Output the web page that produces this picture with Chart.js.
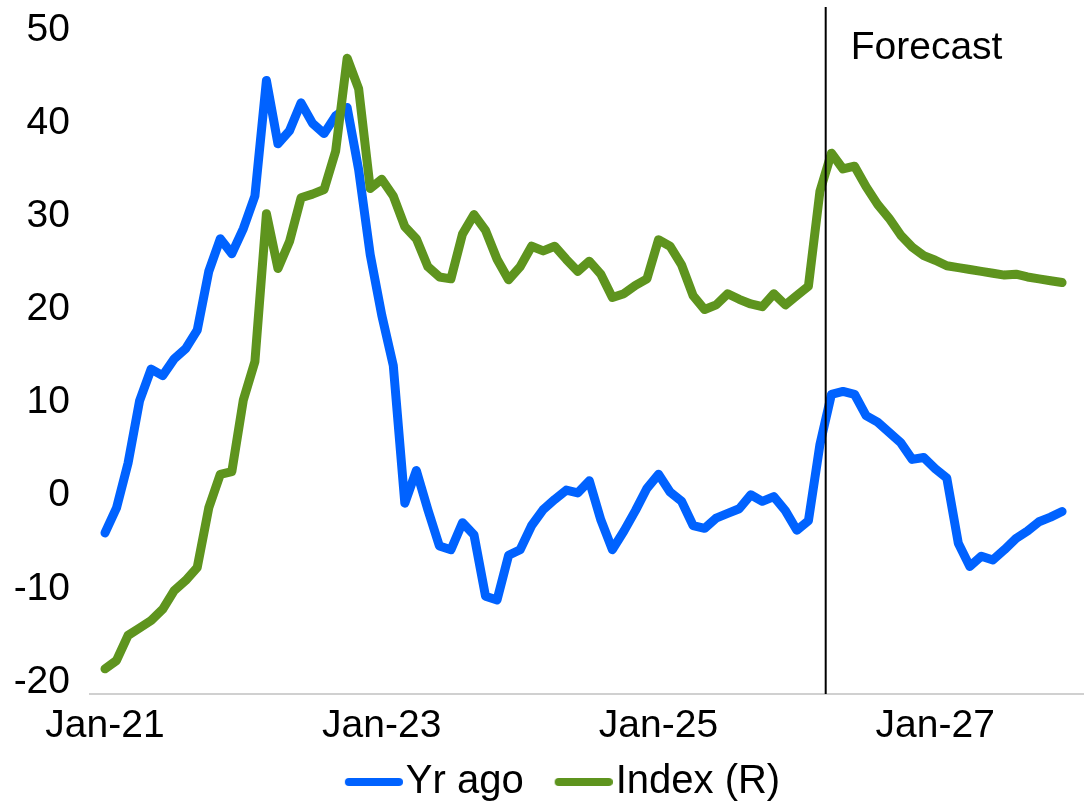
<!DOCTYPE html>
<html>
<head>
<meta charset="utf-8">
<script src="https://cdn.jsdelivr.net/npm/chart.js@4.4.1/dist/chart.umd.min.js"></script>
<style>
  html, body { margin: 0; padding: 0; background: #fff; }
  #wrap { width: 1084px; height: 805px; position: relative; }
</style>
</head>
<body>
<div id="wrap"><canvas id="myChart"></canvas></div>
<script>
// monthly, Jan-21 .. Dec-27
var startYear = 2021;
var monthNames = ['Jan','Feb','Mar','Apr','May','Jun','Jul','Aug','Sep','Oct','Nov','Dec'];
var months = [];
for (var i = 0; i < 84; i++) {
    months.push(monthNames[i % 12] + '-' + String(startYear + Math.floor(i / 12)).slice(2));
}

var yrAgo = [-4.0, -1.3, 3.5, 10.2, 13.6, 12.9, 14.7, 15.8, 17.8, 24.1,
    27.6, 26.0, 28.7, 32.2, 44.6, 37.8, 39.2, 42.2, 40.0, 38.9,
    40.8, 41.7, 35.0, 25.9, 19.4, 14.0, -0.8, 2.7, -1.5, -5.4,
    -5.8, -2.9, -4.2, -10.8, -11.2, -6.4, -5.8, -3.2, -1.5, -0.4,
    0.6, 0.3, 1.6, -2.6, -5.8, -3.8, -1.6, 0.8, 2.3, 0.4,
    -0.6, -3.2, -3.5, -2.4, -1.9, -1.4, 0.1, -0.6, -0.1, -1.6,
    -3.7, -2.7, 5.5, 10.9, 11.2, 10.9, 8.6, 7.9, 6.8, 5.7,
    3.9, 4.1, 2.9, 1.9, -5.1, -7.6, -6.5, -6.9, -5.8, -4.6,
    -3.8, -2.8, -2.3, -1.7];

var indexR = [-18.6, -17.7, -15.0, -14.2, -13.4, -12.2, -10.2, -9.1, -7.7, -1.3,
    2.3, 2.6, 10.3, 14.4, 30.3, 24.4, 27.3, 32.0, 32.4, 32.9,
    37.0, 47.0, 43.7, 33.0, 34.0, 32.2, 28.9, 27.6, 24.6, 23.5,
    23.3, 28.1, 30.2, 28.5, 25.4, 23.2, 24.6, 26.8, 26.3, 26.8,
    25.4, 24.1, 25.2, 23.8, 21.3, 21.7, 22.6, 23.3, 27.5, 26.8,
    24.8, 21.5, 20.0, 20.5, 21.7, 21.1, 20.6, 20.3, 21.7, 20.5,
    21.5, 22.5, 32.7, 36.8, 35.1, 35.4, 33.2, 31.3, 29.8, 28.0,
    26.7, 25.8, 25.3, 24.7, 24.5, 24.3, 24.1, 23.9, 23.7, 23.8,
    23.5, 23.3, 23.1, 22.9];

var xTickPos = [0, 24, 48, 72];
var xTickLabels = ['Jan-21', 'Jan-23', 'Jan-25', 'Jan-27'];
var yTicks = [-20, -10, 0, 10, 20, 30, 40, 50];
var forecastAt = 62.5;
var forecastText = 'Forecast';

var blue = '#0062ff';
var green = '#5e941e';
var fontFam = '"Liberation Sans", Arial, sans-serif';
var tickSize = 39;
var legendSize = 40;
var legendBox = 68;

function toPoints(arr) {
    return arr.map(function(v, i) { return { x: i, y: v }; });
}

// legend sample: thick rounded line at the right end of a small canvas,
// so it sits just before the label text
function sample(color) {
    var w = legendBox + legendSize - 6;
    var c = document.createElement('canvas');
    c.width = w; c.height = 10;
    var g = c.getContext('2d');
    g.strokeStyle = color;
    g.lineWidth = 8;
    g.lineCap = 'round';
    g.beginPath();
    g.moveTo(w - 54, 5);
    g.lineTo(w - 4, 5);
    g.stroke();
    return c;
}

var forecastLine = {
    id: 'forecastLine',
    afterDatasetsDraw: function(chart) {
        var ctx = chart.ctx;
        var area = chart.chartArea;
        var x = chart.scales.x.getPixelForValue(forecastAt);
        ctx.save();
        ctx.strokeStyle = '#000';
        ctx.lineWidth = 2;
        ctx.beginPath();
        ctx.moveTo(x, area.top);
        ctx.lineTo(x, area.bottom);
        ctx.stroke();
        ctx.fillStyle = '#000';
        ctx.font = tickSize + 'px ' + fontFam;
        ctx.textBaseline = 'alphabetic';
        ctx.fillText(forecastText, x + 25, area.top + 52);
        ctx.restore();
    }
};

var ctx = document.getElementById('myChart').getContext('2d');
var chart = new Chart(ctx, {
    type: 'line',
    data: {
        datasets: [{
            label: 'Yr ago',
            data: toPoints(yrAgo),
            borderColor: blue,
            backgroundColor: blue,
            borderWidth: 9,
            borderCapStyle: 'round',
            borderJoinStyle: 'round',
            pointRadius: 0,
            pointStyle: sample(blue),
            yAxisID: 'y',
            order: 1
        }, {
            label: 'Index (R)',
            data: toPoints(indexR),
            borderColor: green,
            backgroundColor: green,
            borderWidth: 9,
            borderCapStyle: 'round',
            borderJoinStyle: 'round',
            pointRadius: 0,
            pointStyle: sample(green),
            yAxisID: 'y1',
            order: 0
        }]
    },
    options: {
        responsive: true,
        maintainAspectRatio: false,
        animation: false,
        layout: { padding: { left: 14, right: 0, top: 7, bottom: -7 } },
        scales: {
            x: {
                type: 'linear',
                min: -1.3,
                max: 84.9,
                afterBuildTicks: function(axis) {
                    axis.ticks = xTickPos.map(function(v) { return { value: v }; });
                },
                afterFit: function(axis) {
                    axis.paddingLeft = 0;
                    axis.paddingRight = 0;
                    axis.height = 64;
                },
                ticks: {
                    autoSkip: false,
                    maxRotation: 0,
                    padding: 9,
                    color: '#000',
                    font: { family: fontFam, size: tickSize },
                    callback: function(v) { return xTickLabels[xTickPos.indexOf(v)]; }
                },
                grid: { display: false, drawTicks: false },
                border: { display: true, color: '#d0d0d0', width: 2 }
            },
            y: {
                position: 'left',
                min: -21.3,
                max: 52.5,
                afterBuildTicks: function(axis) {
                    axis.ticks = yTicks.map(function(v) { return { value: v }; });
                },
                afterFit: function(axis) {
                    axis.paddingTop = 0;
                    axis.paddingBottom = 0;
                    axis.width = 76;
                },
                ticks: {
                    padding: 20,
                    color: '#000',
                    font: { family: fontFam, size: tickSize }
                },
                grid: { display: false, drawTicks: false },
                border: { display: false }
            },
            y1: {
                position: 'right',
                display: false,
                min: -21.3,
                max: 52.5
            }
        },
        plugins: {
            legend: {
                position: 'bottom',
                labels: {
                    usePointStyle: true,
                    pointStyleWidth: legendBox,
                    boxHeight: 10,
                    padding: 4,
                    color: '#000',
                    font: { family: fontFam, size: legendSize },
                    sort: function(a, b) { return a.datasetIndex - b.datasetIndex; }
                }
            },
            tooltip: { enabled: false }
        }
    },
    plugins: [forecastLine]
});
</script>
</body>
</html>
